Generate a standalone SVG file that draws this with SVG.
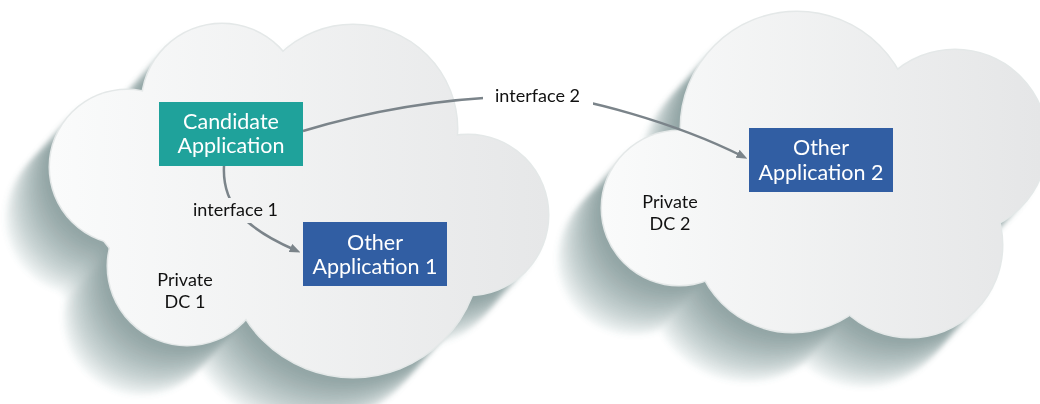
<svg xmlns="http://www.w3.org/2000/svg" xmlns:xlink="http://www.w3.org/1999/xlink" width="1040" height="404" viewBox="0 0 1040 404">
  <style>
    .rim { fill: none; stroke: #e4e8e8; stroke-width: 3; }
    .shadow-step { opacity: 0.085; }
    .box-text { font-family: Lato, "Open Sans", "DejaVu Sans", sans-serif; font-size: 21.5px; fill: #ffffff; text-anchor: middle; }
    .label { font-family: Lato, "Open Sans", "DejaVu Sans", sans-serif; font-size: 18px; fill: #111111; text-anchor: middle; }
    .conn { fill: none; stroke: #7b848a; stroke-width: 2.5; marker-end: url(#arrow); }
  </style>
  <defs>
    <!-- cloud outlines built from overlapping lobes -->
    <g id="shape-dc1">
      <circle cx="127" cy="167" r="77"/>
      <circle cx="222" cy="104" r="80"/>
      <circle cx="353" cy="129" r="104"/>
      <circle cx="468" cy="215" r="80"/>
      <circle cx="353" cy="250" r="127"/>
      <circle cx="187" cy="266" r="79"/>
      <ellipse cx="290" cy="200" rx="200" ry="110"/>
    </g>
    <g id="shape-dc2">
      <circle cx="679" cy="208" r="77"/>
      <circle cx="797" cy="128" r="116"/>
      <circle cx="955" cy="142" r="92"/>
      <circle cx="910" cy="245" r="92"/>
      <circle cx="793" cy="232" r="100"/>
      <ellipse cx="830" cy="200" rx="150" ry="90"/>
    </g>
    <linearGradient id="fill-dc1" gradientUnits="userSpaceOnUse" x1="50" y1="0" x2="548" y2="0">
      <stop offset="0" stop-color="#fafbfb"/>
      <stop offset="1" stop-color="#e6e7e8"/>
    </linearGradient>
    <linearGradient id="fill-dc2" gradientUnits="userSpaceOnUse" x1="600" y1="0" x2="1040" y2="0">
      <stop offset="0" stop-color="#fafbfb"/>
      <stop offset="1" stop-color="#e5e6e7"/>
    </linearGradient>
    <filter id="soft" x="-20%" y="-20%" width="140%" height="140%">
      <feGaussianBlur stdDeviation="2.5"/>
    </filter>
    <marker id="arrow" markerUnits="userSpaceOnUse" viewBox="0 0 11 9" markerWidth="11" markerHeight="9" refX="5" refY="4.5" orient="auto">
      <path d="M0,0 L11,4.5 L0,9 Z" fill="#7b848a"/>
    </marker>
    <!-- gaps in the connector lines behind their labels -->
    <mask id="label-gaps" maskUnits="userSpaceOnUse" x="0" y="0" width="1040" height="404">
      <rect x="0" y="0" width="1040" height="404" fill="#fff"/>
      <rect x="186" y="198" width="100" height="25" fill="#000"/>
      <rect x="483" y="82" width="110" height="26" fill="#000"/>
    </mask>
  </defs>

  <!-- long drop shadows falling to the lower left -->
  <g id="shadows" fill="#5f7b7b" filter="url(#soft)">
    <use xlink:href="#shape-dc1" class="shadow-step" transform="translate(-3.75,4.2)"/>
    <use xlink:href="#shape-dc1" class="shadow-step" transform="translate(-7.5,8.4)"/>
    <use xlink:href="#shape-dc1" class="shadow-step" transform="translate(-11.25,12.6)"/>
    <use xlink:href="#shape-dc1" class="shadow-step" transform="translate(-15,16.8)"/>
    <use xlink:href="#shape-dc1" class="shadow-step" transform="translate(-18.75,21)"/>
    <use xlink:href="#shape-dc1" class="shadow-step" transform="translate(-22.5,25.2)"/>
    <use xlink:href="#shape-dc1" class="shadow-step" transform="translate(-26.25,29.4)"/>
    <use xlink:href="#shape-dc1" class="shadow-step" transform="translate(-30,33.6)"/>
    <use xlink:href="#shape-dc1" class="shadow-step" transform="translate(-33.75,37.8)"/>
    <use xlink:href="#shape-dc1" class="shadow-step" transform="translate(-37.5,42)"/>
    <use xlink:href="#shape-dc1" class="shadow-step" transform="translate(-41.25,46.2)"/>
    <use xlink:href="#shape-dc1" class="shadow-step" transform="translate(-45,50.4)"/>
    <use xlink:href="#shape-dc2" class="shadow-step" transform="translate(-3.75,4.2)"/>
    <use xlink:href="#shape-dc2" class="shadow-step" transform="translate(-7.5,8.4)"/>
    <use xlink:href="#shape-dc2" class="shadow-step" transform="translate(-11.25,12.6)"/>
    <use xlink:href="#shape-dc2" class="shadow-step" transform="translate(-15,16.8)"/>
    <use xlink:href="#shape-dc2" class="shadow-step" transform="translate(-18.75,21)"/>
    <use xlink:href="#shape-dc2" class="shadow-step" transform="translate(-22.5,25.2)"/>
    <use xlink:href="#shape-dc2" class="shadow-step" transform="translate(-26.25,29.4)"/>
    <use xlink:href="#shape-dc2" class="shadow-step" transform="translate(-30,33.6)"/>
    <use xlink:href="#shape-dc2" class="shadow-step" transform="translate(-33.75,37.8)"/>
    <use xlink:href="#shape-dc2" class="shadow-step" transform="translate(-37.5,42)"/>
    <use xlink:href="#shape-dc2" class="shadow-step" transform="translate(-41.25,46.2)"/>
    <use xlink:href="#shape-dc2" class="shadow-step" transform="translate(-45,50.4)"/>
  </g>

  <g id="dc1">
    <use xlink:href="#shape-dc1" class="rim"/>
    <use xlink:href="#shape-dc1" fill="url(#fill-dc1)"/>
    <text class="label"><tspan x="185" y="286">Private</tspan><tspan x="185" y="308">DC 1</tspan></text>
  </g>

  <g id="dc2">
    <use xlink:href="#shape-dc2" class="rim"/>
    <use xlink:href="#shape-dc2" fill="url(#fill-dc2)"/>
    <text class="label"><tspan x="670" y="208">Private</tspan><tspan x="670" y="230">DC 2</tspan></text>
  </g>

  <g id="connectors">
    <g mask="url(#label-gaps)">
      <path class="conn" d="M224,166 C222,205 245,228 295,250"/>
      <path class="conn" d="M303,131 Q420,96 540,96 C580,96 676,123 742,156"/>
    </g>
    <text class="label" x="235.5" y="216">interface 1</text>
    <text class="label" x="537.5" y="102">interface 2</text>
  </g>

  <g id="candidate-app">
    <rect x="159" y="102" width="144" height="64" fill="#1fa29b"/>
    <text class="box-text"><tspan x="231" y="129">Candidate</tspan><tspan x="231" y="153">Application</tspan></text>
  </g>

  <g id="other-app-1">
    <rect x="303" y="222" width="144" height="64" fill="#315ea3"/>
    <text class="box-text"><tspan x="375" y="250">Other</tspan><tspan x="375" y="274">Application 1</tspan></text>
  </g>

  <g id="other-app-2">
    <rect x="749" y="128" width="144" height="64" fill="#315ea3"/>
    <text class="box-text"><tspan x="821" y="155">Other</tspan><tspan x="821" y="180">Application 2</tspan></text>
  </g>
</svg>
